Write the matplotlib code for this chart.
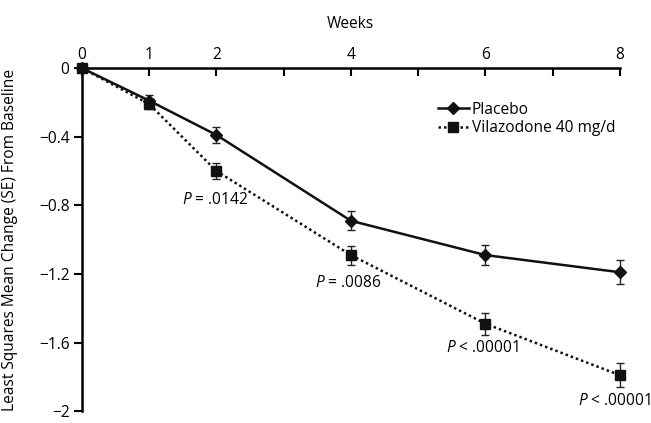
import matplotlib
matplotlib.use("Agg")
import matplotlib.pyplot as plt

weeks = [0, 1, 2, 4, 6, 8]
placebo = [0, -0.19, -0.39, -0.89, -1.09, -1.19]
placebo_se = [0, 0.035, 0.045, 0.055, 0.06, 0.07]
vila = [0, -0.21, -0.60, -1.09, -1.49, -1.79]
vila_se = [0, 0.03, 0.045, 0.055, 0.065, 0.07]

p_vals = ["= .0142", "= .0086", "< .00001", "< .00001"]
p_x = [1.98, 3.96, 5.96, 7.92]
p_y = [-0.77, -1.25, -1.63, -1.94]

ytick_vals = [0, -0.4, -0.8, -1.2, -1.6, -2]
ytick_labels = ["0", "\u22120.4", "\u22120.8", "\u22121.2", "\u22121.6", "\u22122"]
xtick_labels_at = [0, 1, 2, 4, 6, 8]

plt.rcParams['font.family'] = ['Open Sans', 'DejaVu Sans']
plt.rcParams['font.size'] = 11.2
plt.rcParams['mathtext.fontset'] = 'custom'
plt.rcParams['mathtext.it'] = 'Open Sans:italic'
plt.rcParams['mathtext.rm'] = 'Open Sans'

fig = plt.figure(figsize=(6.51, 4.23), dpi=100)
ax = fig.add_axes([0.126, 0.028, 0.826, 0.811])

# error bars first, then lines with markers on top
ax.errorbar(weeks, placebo, yerr=placebo_se, fmt='none', ecolor='#222222',
            capsize=3, elinewidth=1, capthick=1, clip_on=False, zorder=2)
ax.errorbar(weeks, vila, yerr=vila_se, fmt='none', ecolor='#222222',
            capsize=3, elinewidth=1, capthick=1, clip_on=False, zorder=2)
ax.plot(weeks, placebo, color='#111111', lw=1.8, marker='D', ms=6.5,
        clip_on=False, label='Placebo', zorder=3)
ax.plot(weeks, vila, color='#111111', lw=1.8, ls=(0, (1, 1.2)), marker='s', ms=6.5,
        clip_on=False, label='Vilazodone 40 mg/d', zorder=3)

for x, y, s in zip(p_x, p_y, p_vals):
    ax.text(x, y, r'$P$ ' + s, ha='center', va='center', clip_on=False)

ax.set_xlim(0, 8)
ax.set_ylim(-2, 0)
ax.xaxis.tick_top()
ax.xaxis.set_label_position('top')
ax.set_xticks(range(0, 9))
ax.set_xticklabels([str(i) if i in xtick_labels_at else '' for i in range(9)])
ax.set_yticks(ytick_vals)
ax.set_yticklabels(ytick_labels)
ax.tick_params(axis='x', direction='in', length=6, width=1.5, pad=4)
ax.tick_params(axis='y', direction='out', length=6, width=1.5, pad=3)
ax.set_xlabel('Weeks', labelpad=13)
ax.set_ylabel('Least Squares Mean Change (SE) From Baseline')
ax.yaxis.set_label_coords(-0.119, 0.5)

for side in ['right', 'bottom']:
    ax.spines[side].set_visible(False)
for side in ['left', 'top']:
    ax.spines[side].set_linewidth(1.8)

ax.legend(loc='upper left', bbox_to_anchor=(0.65, 0.92), frameon=False,
          handlelength=2.0, handletextpad=0.2, labelspacing=0.15,
          borderaxespad=0)

fig.savefig('out.png', dpi=100)
